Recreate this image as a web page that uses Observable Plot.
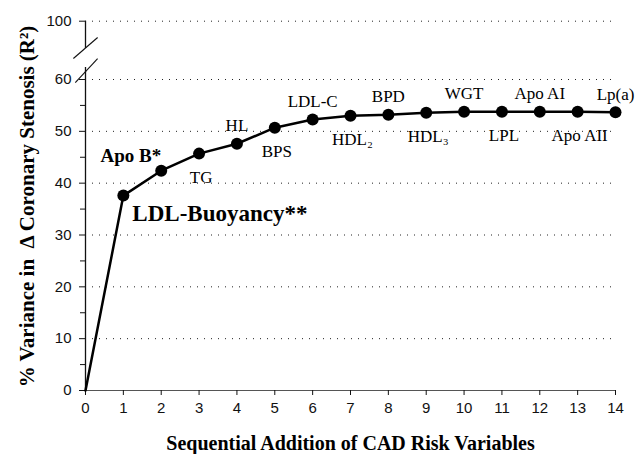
<!DOCTYPE html>
<html>
<head>
<meta charset="utf-8">
<script src="https://cdn.jsdelivr.net/npm/d3@7"></script>
<script src="https://cdn.jsdelivr.net/npm/@observablehq/plot@0.6"></script>
<style>
  html, body { margin: 0; padding: 0; background: #fff; }
</style>
</head>
<body>
<div id="chart"></div>
<script>
// Sequential step (number of CAD risk variables added)
const steps = [0, 1, 2, 3, 4, 5, 6, 7, 8, 9, 10, 11, 12, 13, 14];
// Cumulative % variance in Δ coronary stenosis (R²)
const variance = [0, 37.6, 42.4, 45.7, 47.6, 50.7, 52.3, 53.0, 53.2, 53.6, 53.8, 53.8, 53.8, 53.8, 53.7];
// Variable added at each step
const variables = ["", "LDL-Buoyancy**", "Apo B*", "TG", "HL", "BPS", "LDL-C", "HDL₂", "BPD", "HDL₃", "WGT", "LPL", "Apo AI", "Apo AII", "Lp(a)"];
// Axis ticks
const xTicks = [0, 1, 2, 3, 4, 5, 6, 7, 8, 9, 10, 11, 12, 13, 14];
const yTicks = [0, 10, 20, 30, 40, 50, 60, 100];
const yMinorTicks = [5, 15, 25, 35, 45, 55];
const gridTicks = [10, 20, 30, 40, 50, 60, 100];
// Broken y axis (60 → 100)
const axisSegments = [{y1: 0, y2: 68.2}, {y1: 81.3, y2: 100}];
const axisBreak = [
  {x1: -0.32, y1: 74.4, x2: 0.32, y2: 88.8},
  {x1: -0.27, y1: 59.4, x2: 0.32, y2: 74.4}
];

const data = steps.map((s, i) => ({step: s, variance: variance[i], label: variables[i]}));
const plain = data.filter(d => d.step >= 3);
const above = plain.filter(d => d.step % 2 === 0);
const below = plain.filter(d => d.step % 2 === 1);

const serif = "'Liberation Serif', 'Times New Roman', serif";

const chart = Plot.plot({
  width: 636,
  height: 454,
  marginLeft: 85,
  marginRight: 21,
  marginTop: 20,
  marginBottom: 64,
  style: {fontFamily: "'Liberation Sans', Arial, sans-serif", fontSize: "15px", color: "#111", background: "#fff"},
  x: {domain: [0, 14], nice: false},
  y: {type: "linear", domain: [0, 60, 100], range: [390, 79, 20.7], nice: false},
  marks: [
    Plot.ruleY(gridTicks, {y: d => d, x1: 0, x2: 14, stroke: "#222", strokeWidth: 1, strokeDasharray: "1,6"}),
    Plot.ruleY([0], {x1: 0, x2: 14, stroke: "#555", strokeWidth: 1.2}),
    Plot.ruleX(axisSegments, {x: 0, y1: "y1", y2: "y2", stroke: "#111", strokeWidth: 1.3}),
    Plot.link(axisBreak, {x1: "x1", y1: "y1", x2: "x2", y2: "y2", stroke: "#111", strokeWidth: 1.1}),
    Plot.axisY({ticks: yTicks, tickSize: 6, tickPadding: 8, label: null, stroke: "#111"}),
    Plot.axisY({ticks: yMinorTicks, tickSize: 5, tickFormat: () => "", label: null, stroke: "#111"}),
    Plot.axisX({ticks: xTicks, tickSize: 5, tickPadding: 7, label: null, stroke: "#111"}),
    Plot.line(data, {x: "step", y: "variance", stroke: "#000", strokeWidth: 2.5}),
    Plot.dot(data.filter(d => d.step > 0), {x: "step", y: "variance", r: 6, fill: "#000", stroke: "none"}),
    Plot.text(above, {x: "step", y: "variance", text: "label", dy: -18, fontFamily: serif, fontSize: 17, fill: "#000"}),
    Plot.text(below, {x: "step", y: "variance", text: "label", dy: 24, dx: 2, fontFamily: serif, fontSize: 17, fill: "#000"}),
    Plot.text(data.filter(d => d.step === 2), {x: "step", y: "variance", text: "label", textAnchor: "end", dy: -15, fontFamily: serif, fontSize: 19, fontWeight: "bold", fill: "#000"}),
    Plot.text(data.filter(d => d.step === 1), {x: "step", y: "variance", text: "label", textAnchor: "start", dx: 9, dy: 18, fontFamily: serif, fontSize: 23, fontWeight: "bold", fill: "#000"}),
    Plot.text(["Sequential Addition of CAD Risk Variables"], {frameAnchor: "bottom", textAnchor: "middle", lineAnchor: "middle", dy: 53, fontFamily: serif, fontSize: 20, fontWeight: "bold", fill: "#000"}),
    Plot.text(["% Variance in  Δ Coronary Stenosis (R²)"], {frameAnchor: "left", textAnchor: "middle", lineAnchor: "middle", rotate: -90, dx: -58, dy: 1, fontFamily: serif, fontSize: 21, fontWeight: "bold", fill: "#000"})
  ]
});
document.getElementById("chart").appendChild(chart);
</script>
</body>
</html>
